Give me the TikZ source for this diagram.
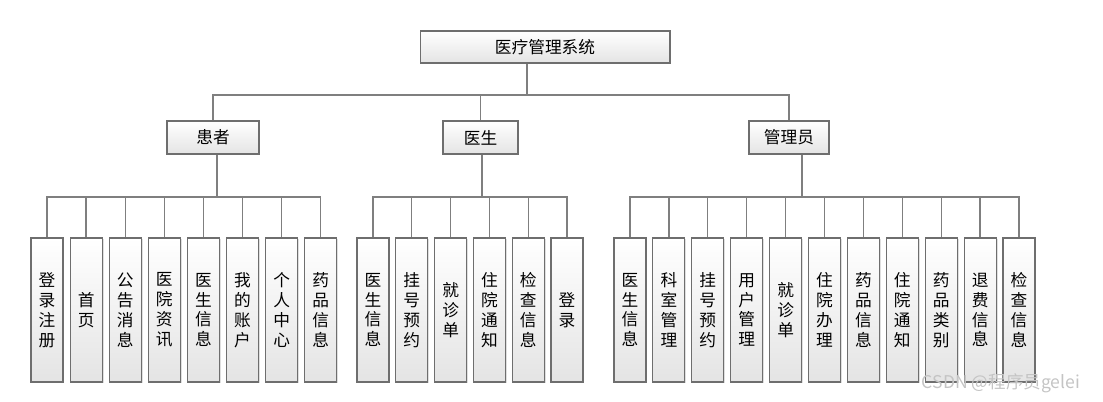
\documentclass[tikz,border=0pt]{standalone}
\usepackage{fontspec}
\setmainfont{Noto Sans CJK SC}
\usepackage{tikz}
\usetikzlibrary{positioning,calc,shadows}
\definecolor{Edge}{HTML}{6E6E6E}
\definecolor{Wire}{HTML}{7F7F7F}
\definecolor{Base}{HTML}{E4E4E4}
\definecolor{Mark}{HTML}{C4C4C4}
\tikzset{
  conn/.style={draw=Wire,line width=0.7pt},
  card/.style={draw=Edge,line width=0.6pt,top color=white,bottom color=Base,
    drop shadow={shadow xshift=0.8pt,shadow yshift=-0.8pt,opacity=0.25},
    inner sep=0pt,font=\fontsize{9.5}{11.3}\selectfont},
  headbox/.style={card,minimum width=5cm,minimum height=0.64cm},
  rolebox/.style={card,minimum height=0.66cm},
  leafbox/.style={card,minimum width=0.64cm,minimum height=2.88cm,align=center}
}

\begin{document}
\begin{tikzpicture}[x=0.02cm,y=-0.02cm]
  \useasboundingbox (0,0) rectangle (1103,402);
  \node[headbox] (sys) at (545,47) {医疗管理系统};
  \node[rolebox,minimum width=1.84cm] (pat) at (213,137.5) {患者};
  \node[rolebox,minimum width=1.5cm] (doc) at (480.5,137.5) {医生};
  \node[rolebox,minimum width=1.6cm] (adm) at (789,137.5) {管理员};
  \coordinate (topbus) at (527,95);
  \draw[conn] (topbus |- sys.south) -- (topbus);
  \draw[conn] (topbus) -| (pat.north);\draw[conn] (topbus) -| (doc.north);\draw[conn] (topbus) -| (adm.north);
  % leaves of each role
  \coordinate (patbus) at (217,197);
  \coordinate (docbus) at (482,197);
  \coordinate (admbus) at (802,197);
  \draw[conn] (patbus |- pat.south) -- (patbus);
  \draw[conn] (docbus |- doc.south) -- (docbus);
  \draw[conn] (admbus |- adm.south) -- (admbus);
  \foreach \t [count=\i] in {{登\\录\\注\\册},{首\\页},{公\\告\\消\\息},{医\\院\\资\\讯},{医\\生\\信\\息},{我\\的\\账\\户},{个\\人\\中\\心},{药\\品\\信\\息}}{
    \node[leafbox] (p\i) at ({47+(\i-1)*39.1},310) {\t};
    \draw[conn] (patbus) -| (p\i.north);
  }
  \foreach \t [count=\i] in {{医\\生\\信\\息},{挂\\号\\预\\约},{就\\诊\\单},{住\\院\\通\\知},{检\\查\\信\\息},{登\\录}}{
    \node[leafbox] (d\i) at ({373+(\i-1)*38.8},310) {\t};
    \draw[conn] (docbus) -| (d\i.north);
  }
  \foreach \t [count=\i] in {{医\\生\\信\\息},{科\\室\\管\\理},{挂\\号\\预\\约},{用\\户\\管\\理},{就\\诊\\单},{住\\院\\办\\理},{药\\品\\信\\息},{住\\院\\通\\知},{药\\品\\类\\别},{退\\费\\信\\息},{检\\查\\信\\息}}{
    \node[leafbox] (a\i) at ({630+(\i-1)*38.9},310) {\t};
    \draw[conn] (admbus) -| (a\i.north);
  }
  \node[text=Mark,font=\fontsize{10}{12}\selectfont] (wm) at (1001,383) {CSDN @程序员gelei};
\end{tikzpicture}
\end{document}
